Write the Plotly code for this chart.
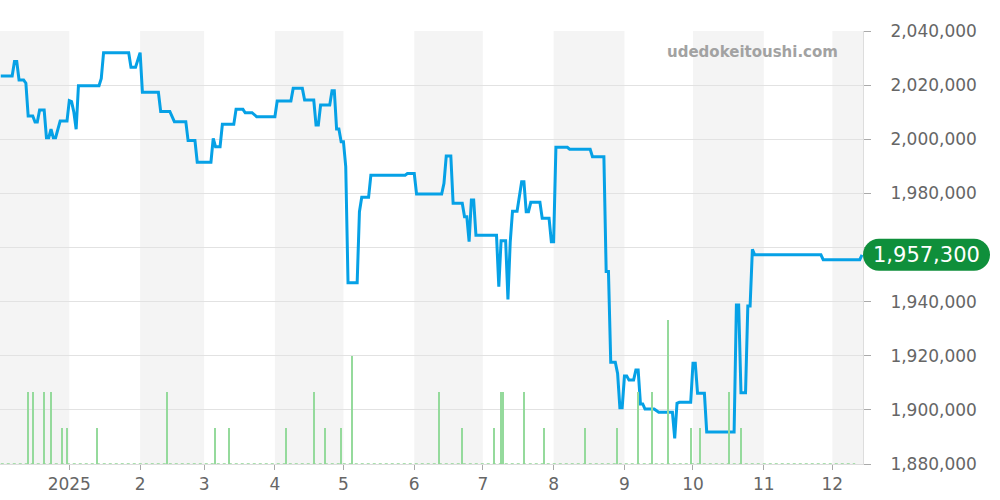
import plotly.graph_objects as go

# ---- data ----
price_dates = [
    "2024-12-02", "2024-12-07", "2024-12-08", "2024-12-09", "2024-12-10", "2024-12-12", "2024-12-13",
    "2024-12-14", "2024-12-16", "2024-12-17", "2024-12-18", "2024-12-19", "2024-12-21", "2024-12-22",
    "2024-12-23", "2024-12-24", "2024-12-25", "2024-12-26", "2024-12-28", "2024-12-31",
    "2025-01-01", "2025-01-02", "2025-01-03", "2025-01-04", "2025-01-05", "2025-01-14", "2025-01-15",
    "2025-01-16", "2025-01-27", "2025-01-28", "2025-01-30",
    "2025-02-01", "2025-02-02", "2025-02-09", "2025-02-10", "2025-02-14", "2025-02-16", "2025-02-21",
    "2025-02-22", "2025-02-25", "2025-02-26",
    "2025-03-04", "2025-03-05", "2025-03-06", "2025-03-08", "2025-03-09", "2025-03-14", "2025-03-15",
    "2025-03-18", "2025-03-19", "2025-03-22", "2025-03-24",
    "2025-04-01", "2025-04-02", "2025-04-08", "2025-04-09", "2025-04-13", "2025-04-14", "2025-04-18",
    "2025-04-19", "2025-04-20", "2025-04-21", "2025-04-25", "2025-04-26", "2025-04-27", "2025-04-28",
    "2025-04-29", "2025-04-30",
    "2025-05-01", "2025-05-02", "2025-05-03", "2025-05-07", "2025-05-08", "2025-05-09", "2025-05-12",
    "2025-05-13", "2025-05-28", "2025-05-29",
    "2025-06-01", "2025-06-02", "2025-06-13", "2025-06-14", "2025-06-15", "2025-06-17", "2025-06-18",
    "2025-06-22", "2025-06-23", "2025-06-24", "2025-06-25", "2025-06-26", "2025-06-27", "2025-06-28",
    "2025-07-07", "2025-07-08", "2025-07-09", "2025-07-11", "2025-07-12", "2025-07-13", "2025-07-14",
    "2025-07-16", "2025-07-18", "2025-07-19", "2025-07-20", "2025-07-21", "2025-07-22", "2025-07-26",
    "2025-07-27", "2025-07-30", "2025-07-31",
    "2025-08-01", "2025-08-02", "2025-08-07", "2025-08-08", "2025-08-17", "2025-08-18", "2025-08-23",
    "2025-08-24", "2025-08-25", "2025-08-26", "2025-08-28", "2025-08-29", "2025-08-30", "2025-08-31",
    "2025-09-01", "2025-09-02", "2025-09-03", "2025-09-05", "2025-09-06", "2025-09-07", "2025-09-08",
    "2025-09-09", "2025-09-10", "2025-09-14", "2025-09-16", "2025-09-22", "2025-09-23", "2025-09-24",
    "2025-09-25", "2025-09-30",
    "2025-10-01", "2025-10-02", "2025-10-03", "2025-10-06", "2025-10-07", "2025-10-19", "2025-10-20",
    "2025-10-21", "2025-10-22", "2025-10-24", "2025-10-25", "2025-10-26", "2025-10-27", "2025-10-28",
    "2025-11-26", "2025-11-27", "2025-12-13", "2025-12-14",
]
price_values = [
    2023400, 2023400, 2028700, 2028700, 2021900, 2021900, 2020700,
    2008600, 2008600, 2006400, 2006400, 2010800, 2010800, 2000600,
    2000600, 2003700, 2000600, 2000600, 2006750, 2006750,
    2014250, 2013900, 2010000, 2003700, 2019800, 2019800, 2022500,
    2032000, 2032000, 2026600, 2026600,
    2032000, 2017350, 2017350, 2010300, 2010300, 2006500, 2006500,
    1999500, 1999500, 1991500,
    1991500, 2000350, 1997250, 1997250, 2005500, 2005500, 2011050,
    2011050, 2009800, 2009800, 2008350,
    2008350, 2014150, 2014150, 2018800, 2018800, 2014500, 2014500,
    2005250, 2005250, 2012650, 2012650, 2017950, 2017950, 2003800,
    2003800, 1999100,
    1999100, 1989900, 1947000, 1947000, 1973250, 1978550, 1978550,
    1986700, 1986700, 1987300,
    1987300, 1979750, 1979750, 1983700, 1993800, 1993800, 1976350,
    1976350, 1971400, 1971400, 1962150, 1977550, 1977550, 1964500,
    1964500, 1945500, 1962500, 1962500, 1940850, 1962000, 1973400,
    1973400, 1984300, 1984300, 1973250, 1973250, 1976700, 1976700,
    1970800, 1970800, 1962150,
    1962150, 1997000, 1997000, 1996300, 1996300, 1993550, 1993550,
    1951100, 1951100, 1917600, 1917600, 1913500, 1900800, 1900800,
    1912500, 1912500, 1911000, 1911000, 1914700, 1914700, 1902200,
    1902200, 1900300, 1900300, 1899100, 1899100, 1889500, 1902450,
    1902800, 1902800,
    1917200, 1917200, 1906100, 1906100, 1891850, 1891850, 1938750,
    1938750, 1906350, 1906350, 1938400, 1938400, 1959300, 1957300,
    1957300, 1955500, 1955500, 1957300,
]

vol_dates = [
    "2024-12-14", "2024-12-16", "2024-12-21", "2024-12-24", "2024-12-29", "2024-12-31",
    "2025-01-13", "2025-02-13", "2025-03-06", "2025-03-12", "2025-04-06", "2025-04-18",
    "2025-04-23", "2025-04-30", "2025-05-05", "2025-06-12", "2025-06-22", "2025-07-06",
    "2025-07-09", "2025-07-10", "2025-07-19", "2025-07-28", "2025-08-15", "2025-08-29",
    "2025-09-07", "2025-09-13", "2025-09-20", "2025-09-30", "2025-10-04", "2025-10-17",
    "2025-10-22",
]
vol_values = [2, 2, 2, 2, 1, 1, 1, 2, 1, 1, 1, 2, 1, 1, 3, 2, 1, 1, 2, 2, 2, 1, 1, 1, 2, 2, 4, 1, 1, 2, 1]

baseline_dates = ["2024-12-02", "2025-12-11"]
baseline_values = [0, 0]

month_ticks = ["2025-01-01", "2025-02-01", "2025-03-01", "2025-04-01", "2025-05-01", "2025-06-01",
               "2025-07-01", "2025-08-01", "2025-09-01", "2025-10-01", "2025-11-01", "2025-12-01"]
month_labels = ["2025", "2", "3", "4", "5", "6", "7", "8", "9", "10", "11", "12"]

price_ticks = [1880000, 1900000, 1920000, 1940000, 1960000, 1980000, 2000000, 2020000, 2040000]
price_tick_labels = ["1,880,000", "1,900,000", "1,920,000", "1,940,000", "",
                     "1,980,000", "2,000,000", "2,020,000", "2,040,000"]

x_range = ["2024-12-01 16:00", "2025-12-14 10:00"]
y_range = [1880000, 2040000]
last_price = price_values[-1]
watermark = "udedokeitoushi.com"

FONT = "DejaVu Sans"

fig = go.Figure()

fig.add_trace(go.Scatter(
    x=baseline_dates, y=baseline_values, yaxis="y2", mode="lines",
    line=dict(color="#8fd694", width=1.5, dash="dot"), hoverinfo="skip", showlegend=False,
))
fig.add_trace(go.Bar(
    x=vol_dates, y=vol_values, yaxis="y2", width=0.55 * 86400000,
    marker=dict(color="#95da9c", line=dict(width=0)), showlegend=False,
))
fig.add_trace(go.Scatter(
    x=price_dates, y=price_values, mode="lines",
    line=dict(color="#06a1e6", width=3), showlegend=False,
))

# alternating month shading
bounds = [x_range[0]] + month_ticks + [x_range[1]]
shapes = []
for i in range(0, len(bounds) - 1, 2):
    shapes.append(dict(type="rect", xref="x", yref="paper", x0=bounds[i], x1=bounds[i + 1],
                       y0=0, y1=1, fillcolor="#f4f4f4", line=dict(width=0), layer="below"))

# pill-shaped last-price label
r = 16
w = 127
k = 0.5523 * r
pill = (f"M{r},{-r} L{w - r},{-r} C{w - r + k},{-r} {w},{-k} {w},0 "
        f"C{w},{k} {w - r + k},{r} {w - r},{r} L{r},{r} "
        f"C{r - k},{r} 0,{k} 0,0 C0,{-k} {r - k},{-r} {r},{-r} Z")
shapes.append(dict(type="path", xref="paper", yref="y", xsizemode="pixel", ysizemode="pixel",
                   xanchor=1, yanchor=last_price, path=pill, fillcolor="#0f8f3b",
                   line=dict(width=0), layer="above"))

fig.update_layout(
    width=1000, height=500,
    margin=dict(l=0, r=137, t=31, b=36, autoexpand=False),
    paper_bgcolor="white", plot_bgcolor="white",
    font=dict(family=FONT, size=17, color="#666"),
    bargap=0,
    shapes=shapes,
    xaxis=dict(
        type="date", range=x_range, tickvals=month_ticks, ticktext=month_labels,
        showgrid=False, ticks="outside", ticklen=5, tickcolor="#aaa", showline=True,
        linecolor="#ddd", linewidth=1, zeroline=False, automargin=False,
        tickfont=dict(size=17, color="#666"),
    ),
    yaxis=dict(
        side="right", range=y_range, tickvals=price_ticks, ticktext=price_tick_labels,
        showgrid=True, gridcolor="#e2e2e2", gridwidth=1, ticks="outside", ticklen=7,
        tickcolor="#aaa", showline=True, linecolor="#ddd", zeroline=False, automargin=False,
        ticklabelstandoff=16, tickfont=dict(size=17, color="#666"),
    ),
    yaxis2=dict(overlaying="y", range=[0, 12], visible=False, showgrid=False, automargin=False),
    annotations=[
        dict(text=watermark, xref="paper", yref="paper", x=840 / 863, y=(464 - 52) / 433,
             xanchor="right", yanchor="middle", showarrow=False,
             font=dict(family=FONT, size=15, color="#a2a2a2", weight="bold")),
        dict(text=f"{last_price:,}", xref="paper", yref="y", x=1, y=last_price,
             xanchor="center", yanchor="middle", xshift=63.5, showarrow=False,
             font=dict(family=FONT, size=21, color="white")),
    ],
)

fig.write_html("out.html", config={"displayModeBar": False},
               post_script="document.body.style.margin='0';document.body.style.overflow='hidden';")
